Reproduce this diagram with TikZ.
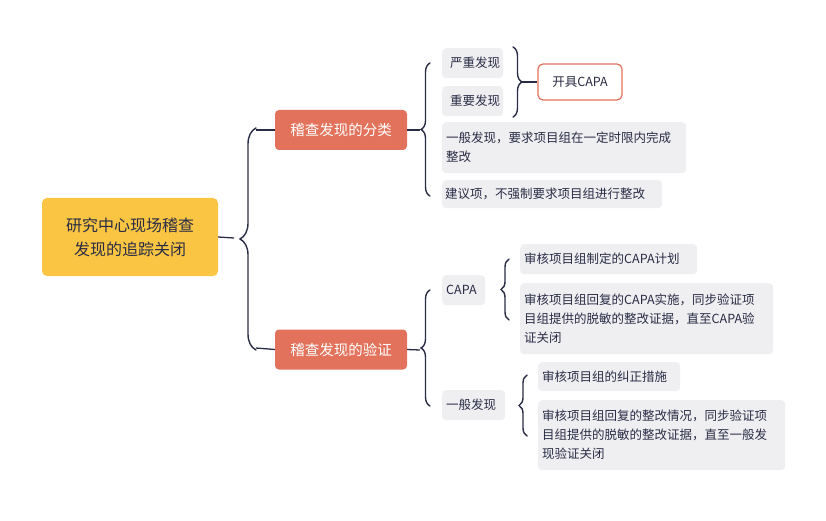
\documentclass[tikz,border=0pt]{standalone}
\usepackage{fontspec}
\setmainfont{Noto Sans CJK SC}
\usetikzlibrary{decorations.pathreplacing}
\definecolor{ink}{HTML}{2A2C45}
\definecolor{leafbg}{HTML}{EFEFF2}
\definecolor{topbg}{HTML}{E2725B}
\definecolor{rootbg}{HTML}{F9C543}
\begin{document}
\begin{tikzpicture}[x=1pt,y=-1pt,
  leaf/.style={fill=leafbg,rounded corners=4pt,anchor=north west,inner sep=0pt,align=left,font=\fontsize{12.5}{19}\selectfont,text=ink},
  topic/.style={fill=topbg,rounded corners=4pt,text=white,font=\fontsize{14.5}{18}\selectfont,minimum width=132pt,minimum height=40pt,inner sep=0pt},
  br/.style={draw=ink,line width=1.4pt,line cap=round,decorate,decoration={brace,amplitude=#1}},
  ln/.style={draw=ink,line width=1.3pt}]
\useasboundingbox (0,0) rectangle (826,521);
\node[fill=rootbg,rounded corners=5pt,minimum width=176pt,minimum height=78pt,align=center,text=ink,font=\fontsize{16}{24}\selectfont] (root) at (130,237) {研究中心现场稽查\\发现的追踪关闭};
\node[topic] (cls) at (341,130) {稽查发现的分类};
\node[topic] (ver) at (341,349.5) {稽查发现的验证};
% root brace
\coordinate (rt) at (234,238);
\draw[ln] (root.east) -- (rt);
\draw[br=16pt] (256,350) -- (256,128);
\draw[ln] (256,130) -- (cls.west);
\draw[ln] (256,348) -- (ver.west);
% classification leaves
\node[leaf,minimum width=61pt,minimum height=30pt] (l1) at (442,48) {\hspace{5pt}严重发现};
\node[leaf,minimum width=61pt,minimum height=30pt] (l2) at (442,86) {\hspace{5pt}重要发现};
\node[leaf,minimum width=244pt,minimum height=51pt,text width=236pt,inner xsep=4pt] (l3) at (442,122) {一般发现，要求项目组在一定时限内完成\\整改};
\node[leaf,minimum width=220pt,minimum height=28pt,text width=214pt,inner xsep=3pt] (l4) at (442,180) {建议项，不强制要求项目组进行整改};
\draw[ln] (cls.east) -- (420,130);
\draw[br=9pt] (430,196) -- (430,63);
\draw[br=9pt] (513,47) -- (513,117);
\node[draw=topbg,line width=1.2pt,fill=white,rounded corners=5pt,minimum width=84pt,minimum height=36pt,text=ink,font=\fontsize{12.5}{16}\selectfont,inner sep=0pt] (capa0) at (580,82) {开具CAPA};
\draw[ln] (522,82) -- (capa0.west);
% verification
\draw[ln] (ver.east) -- (420,350);
\draw[br=9pt] (430,406) -- (430,290);
\node[leaf,minimum width=43pt,minimum height=30pt,text width=35pt,inner xsep=4pt] (capa) at (442,275) {CAPA};
\node[leaf,minimum width=63pt,minimum height=30pt,text width=55pt,inner xsep=4pt] (gen) at (442,390) {一般发现};
\draw[br=8pt] (509,320) -- (509,259);
\node[leaf,minimum width=177pt,minimum height=30pt,text width=169pt,inner xsep=4pt] (v1) at (520,244) {审核项目组制定的CAPA计划};
\node[leaf,minimum width=253pt,minimum height=71pt,text width=245pt,inner xsep=4pt] (v2) at (520,283) {审核项目组回复的CAPA实施，同步验证项\\目组提供的脱敏的整改证据，直至CAPA验\\证关闭};
\draw[br=8pt] (527,436) -- (527,375);
\node[leaf,minimum width=142pt,minimum height=29pt,text width=134pt,inner xsep=4pt] (v3) at (538,362) {审核项目组的纠正措施};
\node[leaf,minimum width=247pt,minimum height=70pt,text width=239pt,inner xsep=4pt] (v4) at (538,400) {审核项目组回复的整改情况，同步验证项\\目组提供的脱敏的整改证据，直至一般发\\现验证关闭};
\end{tikzpicture}
\end{document}
